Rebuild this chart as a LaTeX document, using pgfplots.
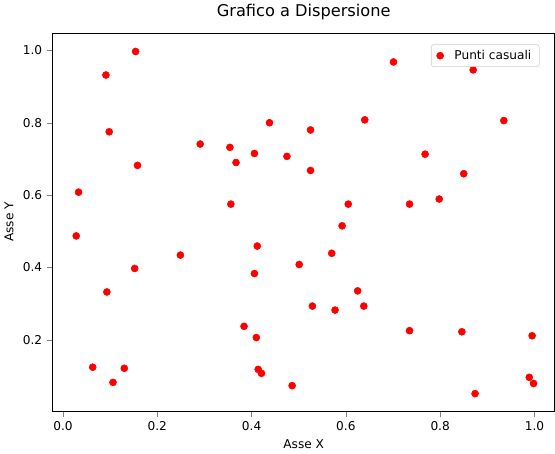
\documentclass[border=0pt]{standalone}
\usepackage{pgfplots}
\pgfplotsset{compat=1.18}
\usepackage{fontspec}
\setmainfont{DejaVu Sans}
\begin{document}
\begin{tikzpicture}
\begin{axis}[
  scale only axis, width=372pt, height=280pt,
  xmin=-0.022, xmax=1.043, ymin=0.003, ymax=1.048,
  xtick={0,0.2,0.4,0.6,0.8,1.0}, ytick={0.2,0.4,0.6,0.8,1.0},
  xticklabel style={/pgf/number format/.cd,fixed,fixed zerofill,precision=1},
  yticklabel style={/pgf/number format/.cd,fixed,fixed zerofill,precision=1},
  /pgf/number format/assume math mode=true,
  tick label style={font=\small}, label style={font=\small},
  tick align=outside, tick pos=left,
  title={Grafico a Dispersione}, title style={font=\large},
  xlabel={Asse X}, ylabel={Asse Y},
  legend pos=north east,
  legend style={font=\small, draw=black!20, rounded corners=2pt, inner xsep=4pt, inner ysep=2pt},
  legend cell align=left,
  legend image code/.code={\draw[#1] plot coordinates {(0.25cm,0cm)};},
]
\addplot[only marks, mark=*, mark size=2.6pt, color=red] coordinates {
(0.154,0.997)(0.091,0.932)(0.098,0.775)(0.158,0.682)(0.033,0.608)(0.028,0.487)
(0.093,0.332)(0.152,0.397)(0.063,0.124)(0.106,0.082)(0.130,0.121)(0.249,0.434)
(0.291,0.741)(0.354,0.732)(0.367,0.690)(0.356,0.575)(0.406,0.715)(0.438,0.800)
(0.475,0.707)(0.412,0.459)(0.406,0.383)(0.384,0.237)(0.410,0.206)(0.414,0.118)
(0.421,0.107)(0.486,0.073)(0.501,0.408)(0.525,0.780)(0.525,0.668)(0.529,0.293)
(0.570,0.439)(0.592,0.515)(0.605,0.575)(0.577,0.282)(0.625,0.335)(0.638,0.293)
(0.640,0.808)(0.701,0.968)(0.735,0.575)(0.735,0.225)(0.768,0.713)(0.798,0.589)
(0.850,0.659)(0.846,0.222)(0.870,0.946)(0.874,0.051)(0.935,0.806)(0.995,0.211)
(0.989,0.096)(0.998,0.079)
};
\addlegendentry{\hspace{6pt}Punti casuali}
\end{axis}
\end{tikzpicture}
\end{document}
